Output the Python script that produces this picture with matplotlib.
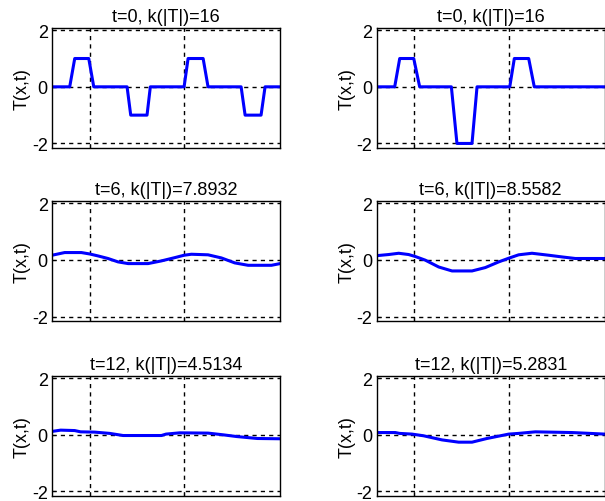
import matplotlib.pyplot as plt

plt.rcParams['font.family'] = ['Liberation Sans', 'DejaVu Sans']

# x runs over two periods of the initial profile
x_t0_left = [0, 0.155, 0.199, 0.322, 0.366, 0.658, 0.690, 0.833, 0.862,
             1.158, 1.193, 1.325, 1.368, 1.658, 1.693, 1.833, 1.868, 2.0]
T_t0_left = [0, 0, 1, 1, 0, 0, -1, -1, 0,
             0, 1, 1, 0, 0, -1, -1, 0, 0]

x_t0_right = [0, 0.158, 0.202, 0.325, 0.377, 0.655, 0.704, 0.836, 0.880,
              1.167, 1.207, 1.333, 1.382, 2.0]
T_t0_right = [0, 0, 1, 1, 0, 0, -2, -2, 0,
              0, 1, 1, 0, 0]

x_t6_left = [0, 0.111, 0.257, 0.33, 0.404, 0.491, 0.579, 0.667, 0.842, 0.959,
             1.076, 1.158, 1.222, 1.368, 1.485, 1.602, 1.719, 1.924, 2.0]
T_t6_left = [0.165, 0.26, 0.26, 0.21, 0.14, 0.05, -0.07, -0.13, -0.13, -0.035,
             0.08, 0.165, 0.2, 0.18, 0.07, -0.105, -0.19, -0.19, -0.13]

x_t6_right = [0, 0.105, 0.193, 0.28, 0.339, 0.427, 0.544, 0.661, 0.836, 0.953,
              1.07, 1.158, 1.245, 1.362, 1.509, 1.626, 1.742, 2.0]
T_t6_right = [0.15, 0.19, 0.235, 0.19, 0.12, -0.01, -0.25, -0.39, -0.39, -0.27,
              -0.07, 0.06, 0.18, 0.235, 0.165, 0.105, 0.05, 0.05]

x_t12_left = [0, 0.076, 0.199, 0.25, 0.374, 0.506, 0.623, 0.959, 1.0, 1.12,
              1.368, 1.5, 1.617, 1.8, 2.0]
T_t12_left = [0.12, 0.165, 0.15, 0.105, 0.095, 0.05, -0.025, -0.025, 0.025, 0.07,
              0.06, 0.0, -0.06, -0.13, -0.14]

x_t12_right = [0, 0.163, 0.2, 0.31, 0.412, 0.573, 0.719, 0.836, 0.967, 1.158,
               1.245, 1.391, 1.713, 2.0]
T_t12_right = [0.08, 0.08, 0.05, 0.025, -0.035, -0.18, -0.26, -0.26, -0.13, 0.025,
               0.05, 0.105, 0.08, 0.025]

titles = ['t=0, k(|T|)=16', 't=0, k(|T|)=16',
          't=6, k(|T|)=7.8932', 't=6, k(|T|)=8.5582',
          't=12, k(|T|)=4.5134', 't=12, k(|T|)=5.2831']
series = [(x_t0_left, T_t0_left), (x_t0_right, T_t0_right),
          (x_t6_left, T_t6_left), (x_t6_right, T_t6_right),
          (x_t12_left, T_t12_left), (x_t12_right, T_t12_right)]
y_ticks = [-2, 0, 2]
x_grid = [0.33, 1.16]

fig = plt.figure(figsize=(6.05, 5.02), dpi=100)

lefts = [0.086, 0.6226]
bottoms = [0.7038, 0.359, 0.0106]
w = 0.377
h = 0.238

for i, (xs, ts) in enumerate(series):
    row, col = divmod(i, 2)
    ax = fig.add_axes([lefts[col], bottoms[row], w, h])
    ax.plot(xs, ts, color='#0000ff', lw=2.2)
    ax.set_xlim(0, 2)
    ax.set_ylim(-2.15, 2.07)
    ax.set_xticks(x_grid)
    ax.set_xticklabels([])
    ax.set_yticks(y_ticks)
    ax.set_yticklabels(['-2', '0', '2'])
    ax.grid(True, color='k', ls=(0, (3, 3)), lw=1)
    ax.tick_params(direction='in', length=3, labelsize=13, pad=3, colors='k')
    for s in ax.spines.values():
        s.set_linewidth(1)
    ax.set_title(titles[i], fontsize=13, pad=5.5)
    ax.set_ylabel('T(x,t)', fontsize=13, labelpad=1)

plt.savefig('out.png', dpi=100)
